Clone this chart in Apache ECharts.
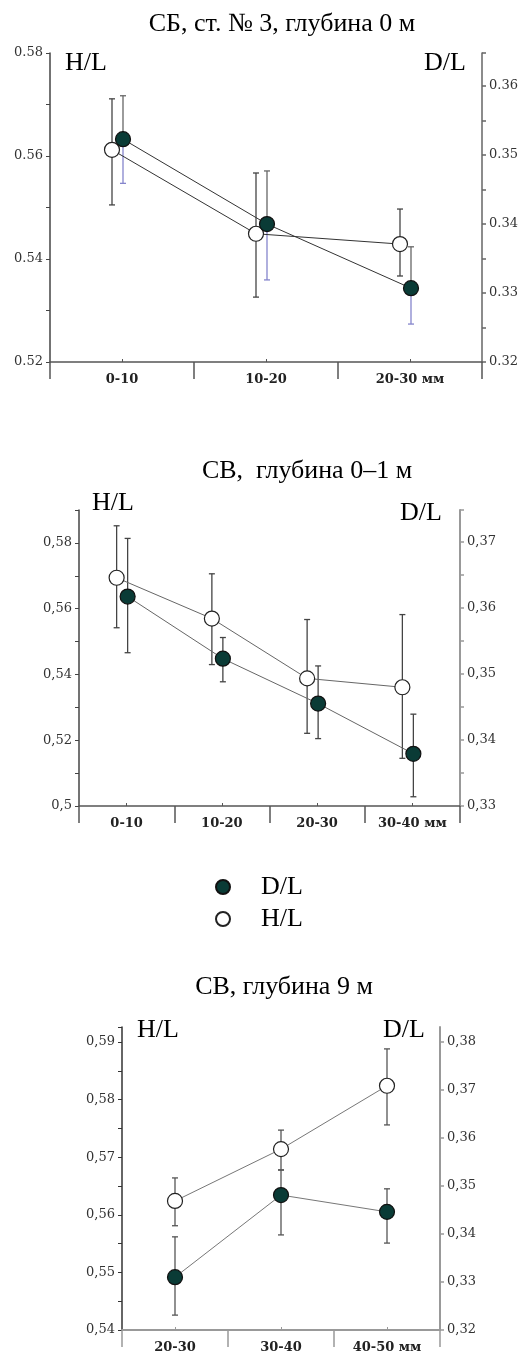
<!DOCTYPE html>
<html>
<head>
<meta charset="utf-8">
<script src="https://cdn.jsdelivr.net/npm/echarts@6/dist/echarts.min.js"></script>
<style>
  html, body { margin: 0; padding: 0; background: #fff; }
  #chart { width: 531px; height: 1365px; }
</style>
</head>
<body>
<div id="chart"></div>
<script>
// --- data ---
// panel 1: СБ, ст. № 3, глубина 0 м
const p1Cats = ['0-10', '10-20', '20-30 мм'];
const p1HL = [0.5612, 0.5449, 0.5429];
const p1HLlo = [0.5505, 0.5326, 0.5367];
const p1HLhi = [0.5711, 0.5567, 0.5497];
const p1DL = [0.3523, 0.3400, 0.3307];
const p1DLlo = [0.3459, 0.3319, 0.3255];
const p1DLhi = [0.3586, 0.3477, 0.3367];
const p1HLrange = [0.52, 0.58];
const p1DLrange = [0.32, 0.3648];

// panel 2: СВ, глубина 0–1 м
const p2Cats = ['0-10', '10-20', '20-30', '30-40 мм'];
const p2HL = [0.5694, 0.5570, 0.5388, 0.5361];
const p2HLlo = [0.5542, 0.5430, 0.5221, 0.5145];
const p2HLhi = [0.5852, 0.5706, 0.5567, 0.5582];
const p2DL = [0.3617, 0.3523, 0.3455, 0.3379];
const p2DLlo = [0.3532, 0.3488, 0.3402, 0.3314];
const p2DLhi = [0.3705, 0.3555, 0.3512, 0.3439];
const p2HLrange = [0.50, 0.59];
const p2DLrange = [0.33, 0.3748];

// panel 3: СВ, глубина 9 м
const p3Cats = ['20-30', '30-40', '40-50 мм'];
const p3HL = [0.5624, 0.5714, 0.5824];
const p3HLlo = [0.5581, 0.5678, 0.5756];
const p3HLhi = [0.5664, 0.5747, 0.5888];
const p3DL = [0.3310, 0.3481, 0.3446];
const p3DLlo = [0.3231, 0.3398, 0.3381];
const p3DLhi = [0.3394, 0.3533, 0.3494];
const p3HLrange = [0.54, 0.5926];
const p3DLrange = [0.32, 0.3831];

const titles = ['СБ, ст. № 3, глубина 0 м', 'СВ,  глубина 0–1 м', 'СВ, глубина 9 м'];

// --- layout / style per panel ---
const panels = [
  { cats: p1Cats, hl: p1HL, hlLo: p1HLlo, hlHi: p1HLhi, dl: p1DL, dlLo: p1DLlo, dlHi: p1DLhi,
    hlRange: p1HLrange, dlRange: p1DLrange, hlInt: 0.02, dlInt: 0.01, dlMinor: true, sep: '.', hlMaxLabel: true,
    grid: { left: 50, top: 53, width: 432, height: 309 }, hOff: -10, dOff: 1,
    title: { x: 277, y: 6 }, hlLab: [65, 50], dlLab: [424, 50],
    leftCol: '#444', rightCol: '#666', rightW: 1.5, xCol: '#555', xW: 1.5,
    lineCol: '#333', hErr: ['#444', '#444'], dErr: ['#666', '#8585cc'] },
  { cats: p2Cats, hl: p2HL, hlLo: p2HLlo, hlHi: p2HLhi, dl: p2DL, dlLo: p2DLlo, dlHi: p2DLhi,
    hlRange: p2HLrange, dlRange: p2DLrange, hlInt: 0.02, dlInt: 0.01, dlMinor: true, sep: ',', hlMaxLabel: false,
    grid: { left: 79, top: 510, width: 381, height: 296 }, hOff: -10, dOff: 1,
    title: { x: 302, y: 453 }, hlLab: [92, 490], dlLab: [400, 500],
    leftCol: '#444', rightCol: '#999', rightW: 2, xCol: '#555', xW: 1.5,
    lineCol: '#666', hErr: ['#444', '#444'], dErr: ['#444', '#444'] },
  { cats: p3Cats, hl: p3HL, hlLo: p3HLlo, hlHi: p3HLhi, dl: p3DL, dlLo: p3DLlo, dlHi: p3DLhi,
    hlRange: p3HLrange, dlRange: p3DLrange, hlInt: 0.01, dlInt: 0.01, dlMinor: false, sep: ',', hlMaxLabel: false,
    grid: { left: 122, top: 1027, width: 318, height: 303 }, hOff: 0, dOff: 0,
    title: { x: 279, y: 969 }, hlLab: [137, 1017], dlLab: [383, 1017],
    leftCol: '#333', rightCol: '#999', rightW: 2, xCol: '#999', xW: 2,
    lineCol: '#777', hErr: ['#555', '#555'], dErr: ['#555', '#555'] }
];

const serif = "'Liberation Serif', 'Times New Roman', serif";
const tickFont = "'DejaVu Serif', serif";
const darkFill = '#0a3b36';

function fmt(sep) {
  return v => String(+v.toFixed(3)).replace('.', sep);
}

function errRender(upCol, lowCol) {
  return function (params, api) {
    const x = api.value(0);
    const pv = api.coord([x, api.value(1)]);
    const pl = api.coord([x, api.value(2)]);
    const ph = api.coord([x, api.value(3)]);
    const cap = 3;
    const up = { stroke: upCol, lineWidth: 1.3 };
    const low = { stroke: lowCol, lineWidth: 1.3 };
    return {
      type: 'group',
      children: [
        { type: 'line', shape: { x1: pv[0], y1: pv[1], x2: ph[0], y2: ph[1] }, style: up },
        { type: 'line', shape: { x1: ph[0] - cap, y1: ph[1], x2: ph[0] + cap, y2: ph[1] }, style: up },
        { type: 'line', shape: { x1: pv[0], y1: pv[1], x2: pl[0], y2: pl[1] }, style: low },
        { type: 'line', shape: { x1: pl[0] - cap, y1: pl[1], x2: pl[0] + cap, y2: pl[1] }, style: low }
      ]
    };
  };
}

const option = {
  animation: false,
  backgroundColor: '#fff',
  title: [], grid: [], xAxis: [], yAxis: [], series: [], graphic: [],
  legend: {
    data: ['D/L', 'H/L'],
    orient: 'vertical',
    left: 210, top: 869,
    icon: 'circle',
    itemWidth: 14, itemHeight: 14, itemGap: 6,
    textStyle: { fontFamily: serif, fontSize: 26, color: '#000', padding: [0, 0, 0, 26] }
  }
};

panels.forEach((p, k) => {
  const n = p.cats.length;
  const band = p.grid.width / n;
  option.grid.push(Object.assign({ containLabel: false }, p.grid));

  option.title.push({
    text: titles[k], left: p.title.x, top: p.title.y, textAlign: 'center',
    textStyle: { fontFamily: serif, fontSize: 26, fontWeight: 'normal', color: '#000' }
  });
  option.graphic.push(
    { type: 'text', left: p.hlLab[0], top: p.hlLab[1], style: { text: 'H/L', font: '26px ' + serif, fill: '#000' } },
    { type: 'text', left: p.dlLab[0], top: p.dlLab[1], style: { text: 'D/L', font: '26px ' + serif, fill: '#000' } }
  );

  // visible category axis (boundary ticks + labels)
  option.xAxis.push({
    type: 'category', gridIndex: k, data: p.cats, boundaryGap: true, position: 'bottom',
    axisLine: { onZero: false, lineStyle: { color: p.xCol, width: p.xW } },
    axisTick: { show: true, interval: 0, length: 17, lineStyle: { color: p.xCol, width: 1.5 } },
    axisLabel: { interval: 0, margin: 11, fontFamily: tickFont, fontWeight: 'bold', fontSize: 13, color: '#222' },
    splitLine: { show: false }
  });
  // small center ticks
  option.xAxis.push({
    type: 'category', gridIndex: k, data: p.cats, boundaryGap: true, position: 'bottom',
    axisLine: { show: false, onZero: false },
    axisTick: { show: true, alignWithLabel: true, inside: true, length: 3, lineStyle: { color: p.xCol } },
    axisLabel: { show: false }, splitLine: { show: false }
  });
  // hidden value axis used to place the points
  option.xAxis.push({
    type: 'value', gridIndex: k, min: -0.5, max: n - 0.5, show: false,
    axisLine: { onZero: false }, splitLine: { show: false }
  });

  const label = { formatter: fmt(p.sep), fontFamily: tickFont, fontSize: 13, color: '#333', margin: 7 };
  option.yAxis.push({
    type: 'value', gridIndex: k, position: 'left', splitLine: { show: false },
    min: p.hlRange[0], max: p.hlRange[1], interval: p.hlInt,
    axisLine: { show: true, onZero: false, lineStyle: { color: p.leftCol, width: 1.5 } },
    axisTick: { show: true, length: 4, lineStyle: { color: p.leftCol } },
    minorTick: { show: true, splitNumber: 2, length: 4, lineStyle: { color: p.leftCol } },
    axisLabel: Object.assign({ showMaxLabel: p.hlMaxLabel }, label)
  });
  option.yAxis.push({
    type: 'value', gridIndex: k, position: 'right', splitLine: { show: false },
    min: p.dlRange[0], max: p.dlRange[1], interval: p.dlInt,
    axisLine: { show: true, onZero: false, lineStyle: { color: p.rightCol, width: p.rightW } },
    axisTick: { show: true, length: 4, lineStyle: { color: p.rightCol, width: 1.5 } },
    minorTick: { show: p.dlMinor, splitNumber: 2, length: 4, lineStyle: { color: p.rightCol, width: 1.5 } },
    axisLabel: Object.assign({ showMaxLabel: false }, label)
  });

  const vx = 3 * k + 2, yl = 2 * k, yr = 2 * k + 1;
  const hs = p.hOff / band, ds = p.dOff / band;

  option.series.push({
    type: 'custom', name: 'H/L err', xAxisIndex: vx, yAxisIndex: yl, z: 1,
    renderItem: errRender(p.hErr[0], p.hErr[1]),
    data: p.hl.map((v, i) => [i + hs, v, p.hlLo[i], p.hlHi[i]])
  });
  option.series.push({
    type: 'custom', name: 'D/L err', xAxisIndex: vx, yAxisIndex: yr, z: 1,
    renderItem: errRender(p.dErr[0], p.dErr[1]),
    data: p.dl.map((v, i) => [i + ds, v, p.dlLo[i], p.dlHi[i]])
  });
  option.series.push({
    type: 'line', name: 'H/L', xAxisIndex: vx, yAxisIndex: yl, z: 3,
    symbol: 'circle', symbolSize: 15, showAllSymbol: true,
    lineStyle: { color: p.lineCol, width: 1 },
    itemStyle: { color: '#fff', borderColor: '#222', borderWidth: 1.2 },
    data: p.hl.map((v, i) => [i + hs, v])
  });
  option.series.push({
    type: 'line', name: 'D/L', xAxisIndex: vx, yAxisIndex: yr, z: 4,
    symbol: 'circle', symbolSize: 15, showAllSymbol: true,
    lineStyle: { color: p.lineCol, width: 1 },
    itemStyle: { color: darkFill, borderColor: '#111', borderWidth: 1.2 },
    data: p.dl.map((v, i) => [i + ds, v])
  });
});

const chart = echarts.init(document.getElementById('chart'));
chart.setOption(option);
window.addEventListener('resize', () => chart.resize());
</script>
</body>
</html>
